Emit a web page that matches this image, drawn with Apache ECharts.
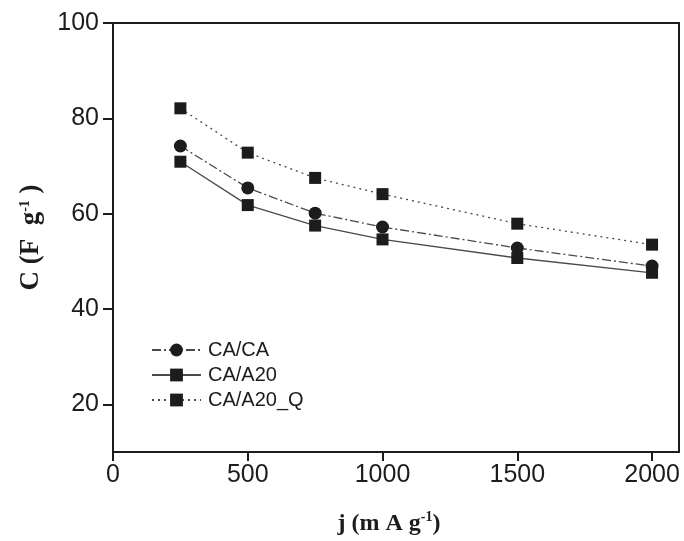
<!DOCTYPE html>
<html>
<head>
<meta charset="utf-8">
<script src="https://cdn.jsdelivr.net/npm/echarts@6/dist/echarts.min.js"></script>
<style>
  html, body { margin: 0; padding: 0; background: #fff; }
  #chart { width: 684px; height: 541px; }
</style>
</head>
<body>
<div id="chart"></div>
<script>
// Current density (mA g-1) and specific capacitance (F g-1) per electrode pair
const currentDensity = [250, 500, 750, 1000, 1500, 2000];
const capCACA = [74.2, 65.4, 60.1, 57.2, 52.8, 49.0];
const capCAA20 = [70.9, 61.8, 57.5, 54.6, 50.7, 47.6];
const capCAA20Q = [82.1, 72.8, 67.5, 64.1, 57.9, 53.5];
const xTicks = [0, 500, 1000, 1500, 2000];
const yTicks = [20, 40, 60, 80, 100];

const pairs = (ys) => currentDensity.map((x, i) => [x, ys[i]]);

const ink = '#1c1c1c';
const lineGray = '#4a4a4a';
const sansFont = '"Liberation Sans", Arial, sans-serif';
const serifFont = '"Liberation Serif", "Times New Roman", serif';

const chart = echarts.init(document.getElementById('chart'), null, { renderer: 'canvas' });

const titleRich = {
  sup: { fontFamily: serifFont, fontWeight: 'bold', fontSize: 14, color: ink, padding: [0, 0, 13, 0] }
};

chart.setOption({
  animation: false,
  backgroundColor: '#fff',
  grid: {
    left: 113, right: 5, top: 23, bottom: 89,
    show: true, borderColor: ink, borderWidth: 2, backgroundColor: 'transparent'
  },
  legend: {
    orient: 'vertical',
    left: 146, top: 335,
    itemWidth: 49, itemHeight: 16, itemGap: 5,
    textStyle: { fontFamily: sansFont, fontSize: 20, color: ink, padding: [0, 0, 0, 2] },
    data: ['CA/CA', 'CA/A20', 'CA/A20_Q']
  },
  xAxis: {
    type: 'value', min: 0, max: 2100,
    name: 'j (m A g{sup|-1})',
    nameLocation: 'middle', nameGap: 58,
    nameTextStyle: {
      fontFamily: serifFont, fontWeight: 'bold', fontSize: 24, color: ink,
      padding: [0, 14, 0, 0], rich: titleRich
    },
    axisLine: { show: true, lineStyle: { color: ink, width: 2 } },
    axisTick: { show: true, length: 9, lineStyle: { color: ink, width: 2 }, customValues: xTicks },
    axisLabel: {
      fontFamily: sansFont, fontSize: 25, color: ink, margin: 11, customValues: xTicks,
      formatter: (v) => String(v)
    },
    splitLine: { show: false }
  },
  yAxis: {
    type: 'value', min: 10, max: 100,
    name: 'C (F  g{sup|-1} )',
    nameLocation: 'middle', nameGap: 68,
    nameTextStyle: { fontFamily: serifFont, fontWeight: 'bold', fontSize: 27, color: ink, rich: titleRich },
    axisLine: { show: true, lineStyle: { color: ink, width: 2 } },
    axisTick: { show: true, length: 10, lineStyle: { color: ink, width: 2 }, customValues: yTicks },
    axisLabel: {
      fontFamily: sansFont, fontSize: 25, color: ink, margin: 14, customValues: yTicks,
      formatter: (v) => String(v)
    },
    splitLine: { show: false }
  },
  series: [
    {
      name: 'CA/CA', type: 'line', data: pairs(capCACA),
      symbol: 'circle', symbolSize: 13,
      itemStyle: { color: ink },
      lineStyle: { color: lineGray, width: 1.3, type: [9, 3, 2, 3] },
      z: 3
    },
    {
      name: 'CA/A20', type: 'line', data: pairs(capCAA20),
      symbol: 'rect', symbolSize: 12,
      itemStyle: { color: ink },
      lineStyle: { color: lineGray, width: 1.3, type: 'solid' },
      z: 2
    },
    {
      name: 'CA/A20_Q', type: 'line', data: pairs(capCAA20Q),
      symbol: 'rect', symbolSize: 12,
      itemStyle: { color: ink },
      lineStyle: { color: lineGray, width: 1.3, type: [2, 4] },
      z: 2
    }
  ]
});
</script>
</body>
</html>
